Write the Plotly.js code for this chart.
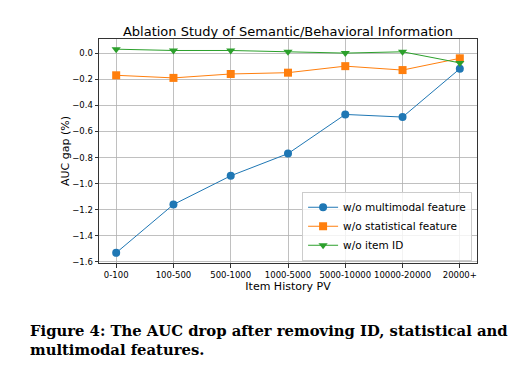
<!DOCTYPE html>
<html>
<head>
<meta charset="utf-8">
<script src="https://cdn.plot.ly/plotly-3.0.1.min.js"></script>
<style>html,body{margin:0;padding:0;background:#fff;}#chart{width:518px;height:368px;}</style>
</head>
<body>
<div id="chart"></div>
<script>
const categories = ["0-100", "100-500", "500-1000", "1000-5000", "5000-10000", "10000-20000", "20000+"];
const multimodal = [-1.53, -1.16, -0.94, -0.77, -0.47, -0.49, -0.12];
const statistical = [-0.17, -0.19, -0.16, -0.15, -0.10, -0.13, -0.04];
const itemId = [0.03, 0.02, 0.02, 0.01, 0.00, 0.01, -0.075];
const seriesNames = ["w/o multimodal feature", "w/o statistical feature", "w/o item ID"];
const yTicks = [0.0, -0.2, -0.4, -0.6, -0.8, -1.0, -1.2, -1.4, -1.6];

const xIdx = categories.map((c, i) => i);
function tr(y, name, color, symbol) {
  return {x: xIdx, y: y, name: name, type: 'scatter', mode: 'lines+markers',
    line: {color: color, width: 1}, marker: {color: color, symbol: symbol, size: 8}};
}
const data = [
  tr(multimodal, seriesNames[0], '#1f77b4', 'circle'),
  tr(statistical, seriesNames[1], '#ff7f0e', 'square'),
  tr(itemId, seriesNames[2], '#2ca02c', 'triangle-down')
];
const font = 'DejaVu Sans, sans-serif';
const layout = {
  width: 518, height: 368,
  margin: {l: 99, r: 41, t: 39, b: 105},
  paper_bgcolor: '#fff', plot_bgcolor: '#fff',
  showlegend: true,
  title: {text: 'Ablation Study of Semantic/Behavioral Information', font: {family: font, size: 13, color: '#000'},
    x: 0.5, xref: 'paper', y: 1, yref: 'paper', yanchor: 'bottom', pad: {b: 3}},
  xaxis: {range: [-0.3, 6.3], tickvals: xIdx, ticktext: categories, showgrid: true, gridcolor: '#b0b0b0', gridwidth: 0.8,
    zeroline: false, showline: true, linecolor: '#333', linewidth: 1, mirror: true,
    ticks: 'outside', ticklen: 3.5, tickcolor: '#333', tickfont: {family: font, size: 8.5, color: '#000'},
    title: {text: 'Item History PV', font: {family: font, size: 11, color: '#000'}, standoff: 2}},
  yaxis: {range: [-1.608, 0.108], tickvals: yTicks, tickformat: '.1f', showgrid: true, gridcolor: '#b0b0b0', gridwidth: 0.8,
    zeroline: false, showline: true, linecolor: '#333', linewidth: 1, mirror: true,
    ticks: 'outside', ticklen: 3.5, tickcolor: '#333', tickfont: {family: font, size: 8.5, color: '#000'},
    title: {text: 'AUC gap (%)', font: {family: font, size: 11, color: '#000'}, standoff: 0}},
  legend: {x: 0.987, xanchor: 'right', y: 0.01, yanchor: 'bottom', bgcolor: 'rgba(255,255,255,0.8)',
    bordercolor: '#ccc', borderwidth: 1, font: {family: font, size: 10.5, color: '#000'}, tracegroupgap: 0, itemwidth: 30},
  annotations: [
    {text: '<b>Figure 4: The AUC drop after removing ID, statistical and</b>', xref: 'paper', yref: 'paper',
      x: -0.188, xanchor: 'left', y: -0.3, yanchor: 'middle', showarrow: false,
      font: {family: 'DejaVu Serif, serif', size: 14.8, color: '#000'}},
    {text: '<b>multimodal features.</b>', xref: 'paper', yref: 'paper',
      x: -0.188, xanchor: 'left', y: -0.385, yanchor: 'middle', showarrow: false,
      font: {family: 'DejaVu Serif, serif', size: 14.8, color: '#000'}}
  ]
};
Plotly.newPlot('chart', data, layout, {displayModeBar: false, staticPlot: true});
</script>
</body>
</html>
